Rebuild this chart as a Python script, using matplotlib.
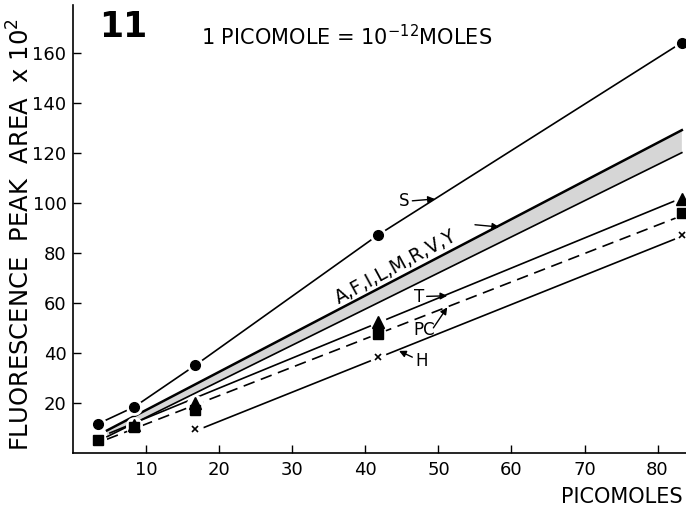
import matplotlib.pyplot as plt

# picomoles injected
x_pts = [3.33, 8.33, 16.67, 41.67, 83.33]

# marker values (peak area x 10^2)
s_y = [11.6, 18.4, 35.0, 87.0, 164.0]
t_x = [8.33, 16.67, 41.67, 83.33]
t_y = [11.0, 20.0, 52.5, 101.6]
pc_y = [5.2, 10.5, 17.0, 47.6, 96.0]
h_x = [16.67, 41.67, 83.33]
h_y = [9.6, 38.5, 87.0]

# drawn regression lines (end points)
band_x = [4.6, 83.33]
band_hi = [9.0, 129.0]
band_lo = [6.5, 120.0]
t_line_x = [5.0, 82.6]
t_line_y = [8.0, 101.0]
pc_line_x = [4.6, 82.6]
pc_line_y = [5.5, 94.0]
h_line_x = [17.8, 82.4]
h_line_y = [10.1, 85.5]

xticks = [10, 20, 30, 40, 50, 60, 70, 80]
yticks = [20, 40, 60, 80, 100, 120, 140, 160]

plt.rcParams['font.family'] = ['DejaVu Sans']

fig = plt.figure(figsize=(6.86, 5.09), dpi=100)
ax = fig.add_axes([73.4 / 686, 56 / 509, 1 - 73.4 / 686, 448 / 509])
ax.set_xlim(0, 83.9)
ax.set_ylim(0, 179)

# shaded band for A,F,I,L,M,R,V,Y
ax.fill_between(band_x, band_lo, band_hi, facecolor='#d6d6d6', edgecolor='none', zorder=1)
ax.plot(band_x, band_hi, color='black', lw=1.8, zorder=2)
ax.plot(band_x, band_lo, color='black', lw=1.2, zorder=2)

ax.plot(x_pts, s_y, color='black', lw=1.2, zorder=2)
ax.plot(t_line_x, t_line_y, color='black', lw=1.2, zorder=2)
ax.plot(pc_line_x, pc_line_y, color='black', lw=1.2, ls=(0, (7, 4)), zorder=2)
ax.plot(h_line_x, h_line_y, color='black', lw=1.2, zorder=2)

# white knock-outs so lines stop short of the symbols
for xs, ys in [(x_pts, s_y), (t_x, t_y), (x_pts, pc_y), (h_x, h_y)]:
    ax.plot(xs, ys, ls='none', marker='o', ms=11, mfc='white', mec='white', zorder=3)

ax.plot(t_x, t_y, ls='none', marker='^', ms=8, color='black', zorder=4)
ax.plot(x_pts, pc_y, ls='none', marker='s', ms=7.5, color='black', zorder=5)
ax.plot(x_pts, s_y, ls='none', marker='o', ms=7, color='black', zorder=5)
ax.plot(h_x, h_y, ls='none', marker='x', ms=4.5, mew=1.2, color='black', zorder=5)

arrow = dict(arrowstyle='-|>', color='black', lw=1, mutation_scale=10,
             shrinkA=0, shrinkB=0)
ax.annotate('S', xy=(49.5, 101.5), xytext=(44.6, 100.5), fontsize=12,
            va='center', ha='left', arrowprops=arrow)
ax.annotate('', xy=(58.3, 90.3), xytext=(55.0, 91.2), arrowprops=arrow)
ax.text(36.3, 59.5, 'A,F,I,L,M,R,V,Y', fontsize=13.5, rotation=28.5,
        rotation_mode='anchor', ha='left', va='baseline')
ax.annotate('T', xy=(51.2, 62.8), xytext=(46.6, 62.5), fontsize=12,
            va='center', ha='left', arrowprops=arrow)
ax.text(46.6, 49.0, 'PC', fontsize=12, va='center', ha='left')
ax.annotate('', xy=(51.2, 58.2), xytext=(49.3, 50.0), arrowprops=arrow)
ax.annotate('H', xy=(44.6, 40.8), xytext=(46.8, 36.6), fontsize=12,
            va='center', ha='left', arrowprops=arrow)

ax.set_xticks(xticks)
ax.set_yticks(yticks)
ax.tick_params(direction='in', length=6, width=1, labelsize=13, pad=5)
ax.tick_params(axis='x', pad=6)
for side in ['top', 'right']:
    ax.spines[side].set_visible(False)
for side in ['left', 'bottom']:
    ax.spines[side].set_linewidth(1.2)

fig.text(99 / 686, 1 - 37 / 509, '11', fontsize=25, fontweight='bold',
         ha='left', va='baseline')
fig.text(201 / 686, 1 - 45 / 509, '1 PICOMOLE = 10$^{-12}$MOLES', fontsize=15,
         ha='left', va='baseline')
fig.text(683 / 686, 1 - 503 / 509, 'PICOMOLES', fontsize=15,
         ha='right', va='baseline')
fig.text(21 / 686, 1 - 235 / 509, 'FLUORESCENCE  PEAK  AREA  x 10$^{2}$',
         fontsize=17.5, rotation=90, ha='center', va='center')

fig.savefig('out.png', dpi=100)
